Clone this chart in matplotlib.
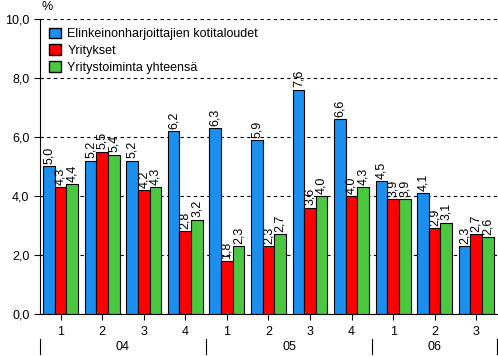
import matplotlib
matplotlib.use("Agg")
import matplotlib.pyplot as plt
import numpy as np
from matplotlib.patches import Patch

plt.rcParams['font.family'] = ['Liberation Sans', 'DejaVu Sans']

quarters = ['1', '2', '3', '4', '1', '2', '3', '4', '1', '2', '3']
years = ['04', '05', '06']
year_sizes = [4, 4, 3]
series_names = ['Elinkeinonharjoittajien kotitaloudet', 'Yritykset', 'Yritystoiminta yhteensä']
kotitaloudet = [5.0, 5.2, 5.2, 6.2, 6.3, 5.9, 7.6, 6.6, 4.5, 4.1, 2.3]
yritykset = [4.3, 5.5, 4.2, 2.8, 1.8, 2.3, 3.6, 4.0, 3.9, 2.9, 2.7]
yhteensa = [4.4, 5.4, 4.3, 3.2, 2.3, 2.7, 4.0, 4.3, 3.9, 3.1, 2.6]
colors = ['#1a8ff0', '#ff0000', '#4cc840']

def fmt(v):
    return f"{v:.1f}".replace('.', ',')

fig = plt.figure(figsize=(4.98, 3.56), dpi=100)
ax = fig.add_axes([0.080, 0.118, 0.918, 0.829])

x = np.arange(len(quarters))
w = 0.28
for i, (vals, c) in enumerate(zip([kotitaloudet, yritykset, yhteensa], colors)):
    pos = x + (i - 1) * w
    ax.bar(pos, vals, width=w, color=c, edgecolor='black', linewidth=0.8, zorder=3)
    for p, v in zip(pos, vals):
        ax.text(p, v + 0.08, fmt(v), rotation=90, ha='center', va='bottom', fontsize=9, zorder=4)

ax.set_xlim(-0.5, len(quarters) - 0.5)
ax.set_ylim(0, 10)
ax.set_yticks(np.arange(0, 10.1, 2))
ax.set_yticklabels([fmt(v) for v in np.arange(0, 10.1, 2)], fontsize=9)
ax.set_xticks(x)
ax.set_xticklabels(quarters, fontsize=9)
ax.tick_params(axis='x', direction='out', length=4, pad=5)
ax.tick_params(axis='y', direction='out', length=4)
ax.grid(axis='y', color='black', linestyle=(0, (3, 3)), linewidth=0.8, zorder=0)
for s in ['top', 'right']:
    ax.spines[s].set_visible(False)
ax.spines['bottom'].set_zorder(5)

ax.text(0.003, 1.02, '%', transform=ax.transAxes, fontsize=9, ha='left', va='bottom')

# year labels and separators
start = 0
edges = [-0.5]
for yr, n in zip(years, year_sizes):
    mid = start + (n - 1) / 2
    ax.text(mid, -0.113, yr, transform=ax.get_xaxis_transform(), ha='center', va='center', fontsize=9)
    start += n
    edges.append(start - 0.5)
for e in edges:
    ax.plot([e, e], [-0.085, -0.136], color='black', linewidth=0.8,
            transform=ax.get_xaxis_transform(), clip_on=False)

handles = [Patch(facecolor=c, edgecolor='black', label=n) for c, n in zip(colors, series_names)]
ax.legend(handles=handles, loc='upper left', bbox_to_anchor=(0.0, 1.0), frameon=False,
          fontsize=9, handlelength=1.0, handleheight=0.9, labelspacing=0.35, borderaxespad=0.3,
          handletextpad=0.5)

fig.savefig('out.png', dpi=100)
